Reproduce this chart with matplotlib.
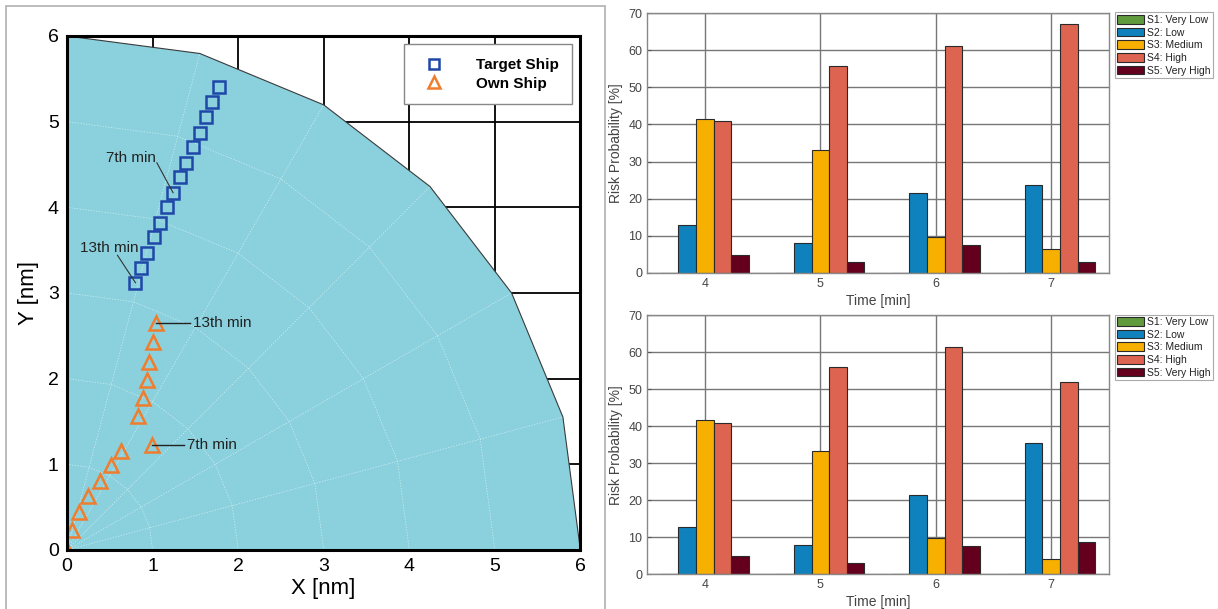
import numpy as np
import matplotlib
matplotlib.use("Agg")
import matplotlib.pyplot as plt
from matplotlib.patches import Polygon, Rectangle
from matplotlib.lines import Line2D

plt.rcParams["font.family"] = ["Liberation Sans", "DejaVu Sans"]

# ---- left panel data: ship tracks (nm), index = minute
target_x = [1.78, 1.70, 1.62, 1.55, 1.47, 1.39, 1.32, 1.24, 1.17, 1.09, 1.02, 0.94, 0.87, 0.80]
target_y = [5.41, 5.23, 5.05, 4.87, 4.70, 4.52, 4.35, 4.17, 4.00, 3.82, 3.65, 3.47, 3.29, 3.12]
own_x = [0.00, 0.06, 0.14, 0.25, 0.38, 0.51, 0.63, 0.99, 0.83, 0.89, 0.93, 0.955, 1.00, 1.04]
own_y = [0.00, 0.23, 0.44, 0.63, 0.81, 0.99, 1.16, 1.22, 1.56, 1.77, 1.99, 2.20, 2.43, 2.65]

# polar mesh of the region
mesh_radii = [1, 2, 3, 4, 5, 6]
mesh_angles = [0, 15, 30, 45, 60, 75, 90]

# ---- right panel data: risk probabilities [%]
times = [4, 5, 6, 7]
levels = ["S1: Very Low", "S2: Low", "S3: Medium", "S4: High", "S5: Very High"]
level_colors = ["#5F9A3C", "#0F82BE", "#F7AF00", "#DD6450", "#64001E"]
risk_top = [
    [0, 0, 0, 0],
    [12.8, 7.9, 21.4, 23.6],
    [41.6, 33.2, 9.7, 6.3],
    [40.9, 55.8, 61.2, 67.2],
    [4.9, 3.0, 7.6, 3.0],
]
risk_bottom = [
    [0, 0, 0, 0],
    [12.7, 7.9, 21.4, 35.4],
    [41.6, 33.2, 9.8, 4.1],
    [40.8, 55.9, 61.3, 52.0],
    [4.9, 3.0, 7.7, 8.7],
]

fig = plt.figure(figsize=(12.18, 6.09), dpi=100)

# gray frame around left panel
fig.patches.append(Rectangle((6 / 1218, -0.01), 599 / 1218, 1 - 6 / 609 + 0.01,
                             transform=fig.transFigure, fill=False,
                             edgecolor="#B0B0B0", linewidth=1.2))

# ================= left: tracks =================
ax = fig.add_axes([0.055, 0.0969, 0.4215, 0.8440])
ax.set_xlim(0, 6)
ax.set_ylim(0, 6)
ax.set_axisbelow(True)
ax.grid(True, color="black", linewidth=1.3)

ang = np.radians(mesh_angles)
outer = [(6 * np.cos(a), 6 * np.sin(a)) for a in ang]
poly = Polygon([(0, 0)] + outer, closed=True, facecolor="#8AD1DD",
               edgecolor="#3A3A3A", linewidth=0.8, zorder=1)
ax.add_patch(poly)

for r in mesh_radii[:-1]:
    ax.plot(r * np.cos(ang), r * np.sin(ang), color="white", linestyle=(0, (2, 2)),
            linewidth=0.5, alpha=0.6, zorder=2)
for a in ang[1:-1]:
    ax.plot([0, 6 * np.cos(a)], [0, 6 * np.sin(a)], color="white", linestyle=(0, (2, 2)),
            linewidth=0.5, alpha=0.6, zorder=2)

ax.plot(target_x, target_y, linestyle="none", marker="s", markersize=8,
        markerfacecolor="none", markeredgecolor="#1F47A8", markeredgewidth=1.8, zorder=4)
ax.plot(own_x, own_y, linestyle="none", marker="^", markersize=9.5,
        markerfacecolor="none", markeredgecolor="#F07D2E", markeredgewidth=1.8, zorder=4)

# minute labels
ax.plot([1.05, target_x[7]], [4.52, target_y[7]], color="#333333", linewidth=0.8, zorder=5)
ax.text(1.04, 4.58, "7th min", ha="right", va="center", fontsize=11, color="#222222", zorder=5)
ax.plot([0.59, target_x[13]], [3.44, target_y[13]], color="#333333", linewidth=0.8, zorder=5)
ax.text(0.83, 3.53, "13th min", ha="right", va="center", fontsize=11, color="#222222", zorder=5)
ax.plot([own_x[13], 1.44], [own_y[13], own_y[13]], color="#222222", linewidth=1.0, zorder=5)
ax.text(1.47, own_y[13], "13th min", ha="left", va="center", fontsize=11, color="#222222", zorder=5)
ax.plot([own_x[7], 1.37], [own_y[7], own_y[7]], color="#222222", linewidth=1.0, zorder=5)
ax.text(1.40, own_y[7], "7th min", ha="left", va="center", fontsize=11, color="#222222", zorder=5)

handles = [
    Line2D([], [], linestyle="none", marker="s", markersize=7, markerfacecolor="none",
           markeredgecolor="#1F47A8", markeredgewidth=1.8),
    Line2D([], [], linestyle="none", marker="^", markersize=8, markerfacecolor="none",
           markeredgecolor="#F07D2E", markeredgewidth=1.8),
]
leg = ax.legend(handles, ["Target Ship", "Own Ship"], loc="upper right",
                bbox_to_anchor=(0.984, 0.984), borderaxespad=0,
                prop={"weight": "bold", "size": 11},
                fancybox=False, framealpha=1, edgecolor="#888888",
                handlelength=2.2, handletextpad=1.6, borderpad=0.9, labelspacing=0.3)
leg.get_frame().set_linewidth(1.0)
leg.set_zorder(6)

ax.set_xticks(range(7))
ax.set_yticks(range(7))
ax.tick_params(direction="in", length=7, width=2, labelsize=14, pad=6,
               top=False, right=False)
for s in ax.spines.values():
    s.set_linewidth(2.2)
    s.set_zorder(7)
ax.set_xlabel("X [nm]", fontsize=16, labelpad=2)
ax.set_ylabel("Y [nm]", fontsize=16, labelpad=6)

# ================= right: bar charts =================
width = 0.153
offsets = [(i - 2) * width for i in range(len(levels))]


def risk_axes(rect, data):
    bx = fig.add_axes(rect)
    bx.set_axisbelow(True)
    for i in range(len(levels)):
        bx.bar([t + offsets[i] for t in times], data[i], width=width,
               color=level_colors[i], edgecolor="#2A2A2A", linewidth=0.8,
               label=levels[i])
    bx.set_xlim(3.5, 7.5)
    bx.set_ylim(0, 70)
    bx.set_xticks(times)
    bx.set_yticks(range(0, 71, 10))
    bx.grid(True, color="#777777", linewidth=1.0)
    bx.tick_params(direction="in", length=3, width=0.8, colors="#555555",
                   labelcolor="#444444", labelsize=9)
    for s in bx.spines.values():
        s.set_color("#888888")
        s.set_linewidth(1.0)
    bx.set_xlabel("Time [min]", fontsize=10, color="#444444", labelpad=3)
    bx.set_ylabel("Risk Probability [%]", fontsize=10, color="#444444", labelpad=4)
    lg = bx.legend(loc="upper left", bbox_to_anchor=(1.013, 1.003), fontsize=7.5,
                   fancybox=False, framealpha=1, edgecolor="#AAAAAA",
                   handlelength=2.5, handleheight=0.9, handletextpad=0.3,
                   borderpad=0.25, labelspacing=0.25, borderaxespad=0)
    lg.get_frame().set_linewidth(0.8)
    for txt in lg.get_texts():
        txt.set_color("#222222")
    return bx


risk_axes([0.5314, 0.5522, 0.3790, 0.4260], risk_top)
risk_axes([0.5314, 0.0570, 0.3790, 0.4253], risk_bottom)

fig.savefig("out.png", dpi=100)
